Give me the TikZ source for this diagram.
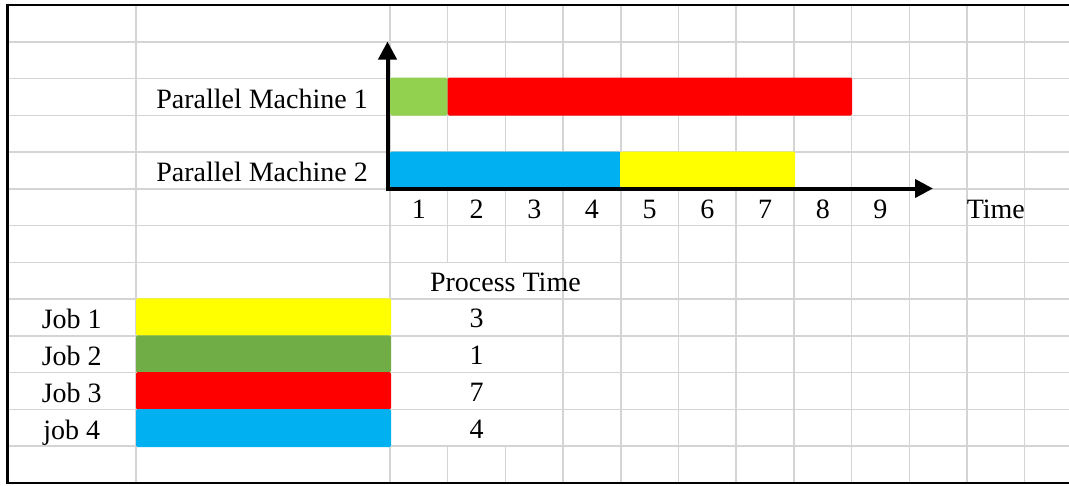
\documentclass[tikz,border=0pt]{standalone}
\usepackage{fontspec}
\setmainfont{Liberation Serif}
\usetikzlibrary{arrows.meta}
\definecolor{gridgray}{RGB}{212,212,212}
\definecolor{ganttgreen}{HTML}{92D050}
\definecolor{legendgreen}{HTML}{70AD47}
\definecolor{jobblue}{HTML}{00B0F0}
\definecolor{jobred}{HTML}{FF0000}
\definecolor{jobyellow}{HTML}{FFFF00}
\begin{document}
\begin{tikzpicture}[x=1pt,y=-1pt,
  gridline/.style={draw=gridgray,line width=1.5pt},
  border/.style={draw=black,line width=2.6pt},
  bar/.style={rectangle,anchor=north west,inner sep=0pt,outer sep=0pt,draw=none,rounded corners=1.5pt},
  lbl/.style={anchor=base,inner sep=0pt,font=\fontsize{28}{32}\selectfont},
  axis/.style={draw=black,line width=4pt,-{Triangle[length=18pt,width=18pt]}}
]
\useasboundingbox (0,0) rectangle (1069,485);
\fill[white] (0,0) rectangle (1069,485);
% horizontal grid lines
\foreach \i in {1,...,12}{
  \draw[gridline] (7.5,{5+36.77*\i}) -- (1069,{5+36.77*\i});
}
% vertical grid lines
\draw[gridline] (136,5) -- (136,483);
\foreach \k in {0,3,4,5,6,7,8,9,10,11}{
  \draw[gridline] ({390+57.7*\k},5) -- ({390+57.7*\k},483);
}
\foreach \k in {1,2}{
  \draw[gridline] ({390+57.7*\k},5) -- ({390+57.7*\k},262.4);
  \draw[gridline] ({390+57.7*\k},446.2) -- ({390+57.7*\k},483);
}
% gantt bars
\node[bar,fill=ganttgreen,minimum width=57.7pt,minimum height=38pt] (m1j2) at (390,77.5) {};
\node[bar,fill=jobred,minimum width=404.5pt,minimum height=38pt] (m1j3) at (447.5,77.5) {};
\node[bar,fill=jobblue,minimum width=230.5pt,minimum height=36pt] (m2j4) at (390,151.5) {};
\node[bar,fill=jobyellow,minimum width=175pt,minimum height=36pt] (m2j1) at (620,151.5) {};
% legend bars
\node[bar,fill=jobyellow,minimum width=255pt,minimum height=37.4pt] (lj1) at (136,298.3) {};
\node[bar,fill=legendgreen,minimum width=255pt,minimum height=37.4pt] (lj2) at (136,335.3) {};
\node[bar,fill=jobred,minimum width=255pt,minimum height=37.4pt] (lj3) at (136,372.1) {};
\node[bar,fill=jobblue,minimum width=255pt,minimum height=38pt] (lj4) at (136,409.1) {};
% labels
\node[lbl] (pm1) at (262,108.3) {Parallel Machine 1};
\node[lbl] (pm2) at (262,181.7) {Parallel Machine 2};
\foreach \k in {1,...,9}{
  \node[lbl] (t\k) at ({390+57.7*(\k-0.5)},218.3) {\k};
}
\node[lbl] (time) at (995.8,218.3) {Time};
\node[lbl] (ptime) at (505.4,291.7) {Process Time};
\node[lbl] (job1) at (71.7,328.3) {Job 1};
\node[lbl] (job2) at (71.7,365.6) {Job 2};
\node[lbl] (job3) at (71.7,402.3) {Job 3};
\node[lbl] (job4) at (71.7,439) {job 4};
\node[lbl] (p1) at (476.5,327.3) {3};
\node[lbl] (p2) at (476.5,364.6) {1};
\node[lbl] (p3) at (476.5,401.3) {7};
\node[lbl] (p4) at (476.5,438) {4};
% axes
\coordinate (vbot) at (387.5,190.5);
\coordinate (vtop) at (387.5,41.5);
\coordinate (hleft) at (385.5,188.5);
\coordinate (htip) at (933,188.5);
\draw[axis] (vbot) -- (vtop);
\draw[axis] (hleft) -- (htip);
% border
\draw[border] (7.5,5) -- (1069,5);
\draw[border] (7.5,3.7) -- (7.5,484.3);
\draw[border] (7.5,483) -- (1069,483);
\end{tikzpicture}
\end{document}
